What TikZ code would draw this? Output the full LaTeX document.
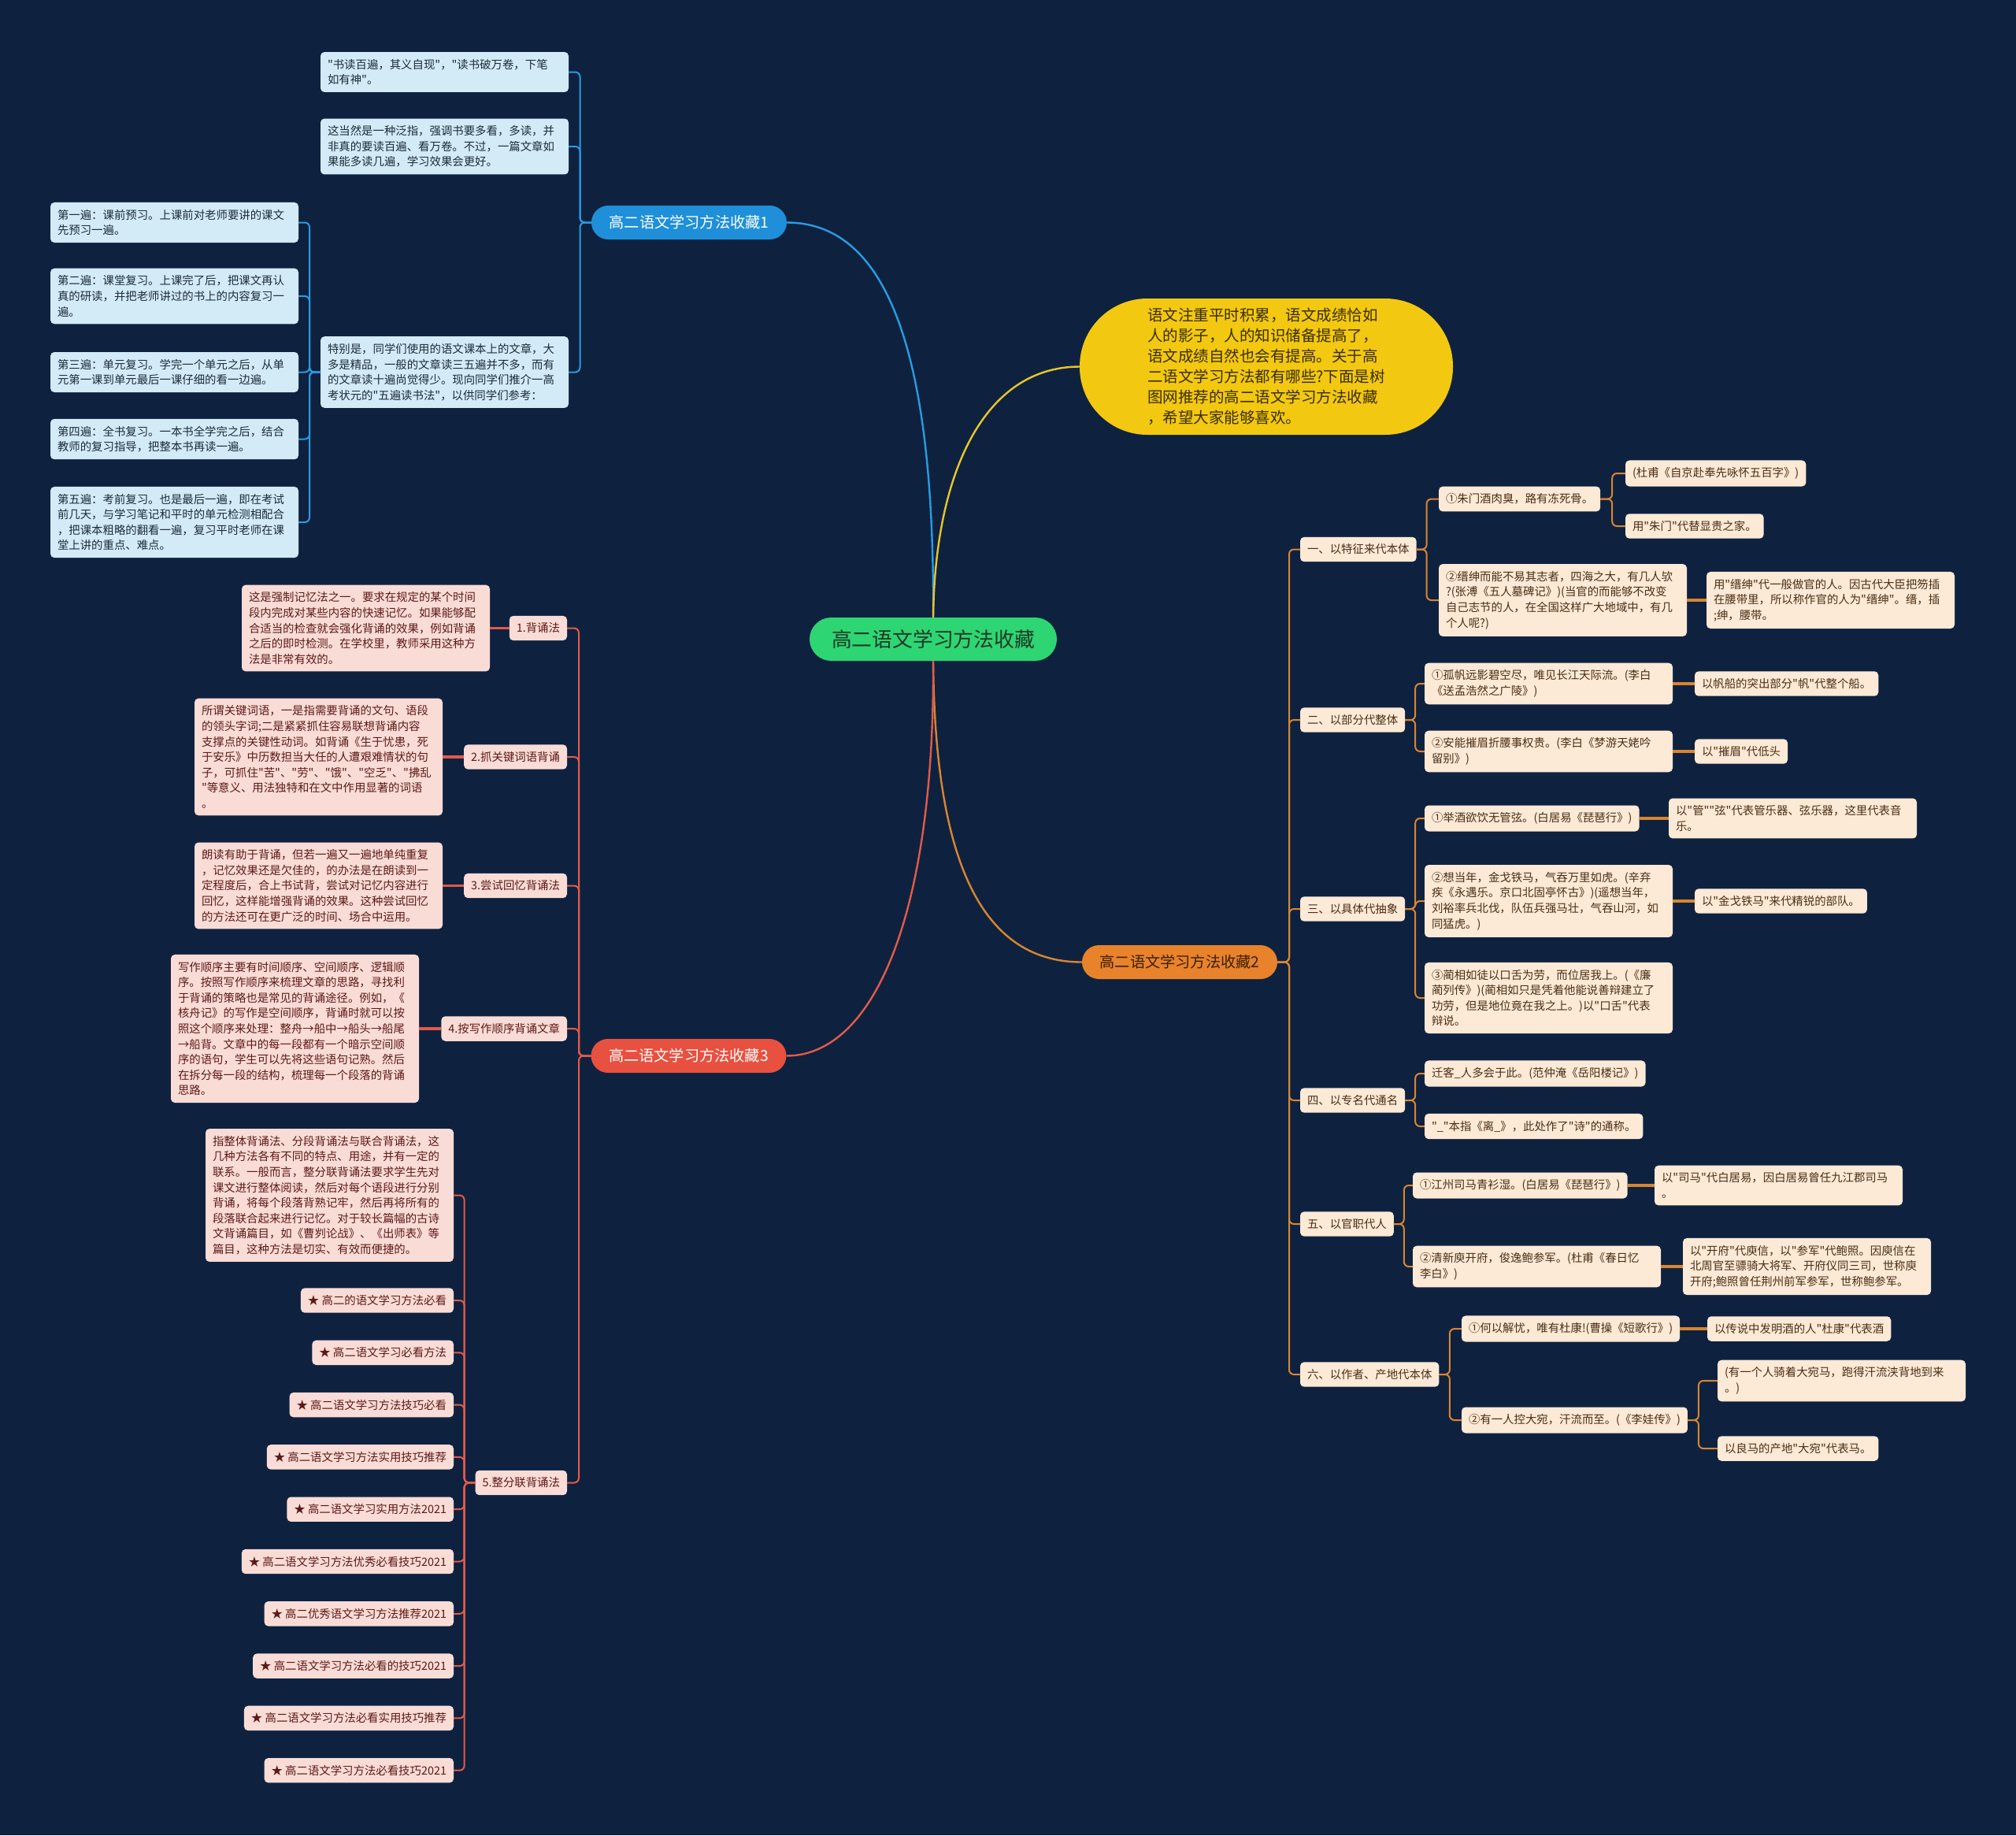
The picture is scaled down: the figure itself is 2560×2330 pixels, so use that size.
\documentclass[tikz,border=0pt]{standalone}
\usepackage{fontspec}
\setmainfont{Noto Sans CJK SC}[Ligatures=TeXOff]
\definecolor{bg}{HTML}{0E2240}
\definecolor{cgreen}{HTML}{2ED573}
\definecolor{ctext}{HTML}{1B3A24}
\definecolor{yel}{HTML}{F2C811}
\definecolor{yeltext}{HTML}{3A2E05}
\definecolor{yline}{HTML}{E8C52A}
\definecolor{bblue}{HTML}{1E8FD8}
\definecolor{bcol}{HTML}{2A9BE0}
\definecolor{lblue}{HTML}{D3EBF7}
\definecolor{bltext}{HTML}{1C2B3A}
\definecolor{oorange}{HTML}{E8822B}
\definecolor{otextb}{HTML}{3A1E05}
\definecolor{ocol}{HTML}{D98530}
\definecolor{lpeach}{HTML}{FCE9D6}
\definecolor{otext}{HTML}{4A2E14}
\definecolor{rred}{HTML}{E8503F}
\definecolor{rcol}{HTML}{E35A48}
\definecolor{lpink}{HTML}{FADCD7}
\definecolor{rtext}{HTML}{5C1A16}
\begin{document}
\begin{tikzpicture}[x=0.5pt,y=-0.5pt,
  every node/.style={inner sep=0pt, outer sep=0pt},
  leaf/.style={rounded corners=2.5pt, inner xsep=4.5pt, inner ysep=4.5pt, align=left, font=\fontsize{7.2}{9.8}\selectfont},
  wide/.style={text width=148.5pt},
  bleaf/.style={leaf, fill=lblue, text=bltext},
  rleaf/.style={leaf, fill=lpink, text=rtext},
  oleaf/.style={leaf, fill=lpeach, text=otext},
  branch/.style={rounded corners=10.75pt, minimum width=124pt, minimum height=21.5pt, font=\fontsize{9.6}{11}\selectfont},
  bl/.style={draw=bcol, line width=1pt, rounded corners=3pt},
  rl/.style={draw=rcol, line width=1pt, rounded corners=3pt},
  ol/.style={draw=ocol, line width=1pt, rounded corners=3pt},
  straight/.style={line width=1.6pt},
  maincurve/.style={line width=1.2pt}
]
\fill[bg] (0,0) rectangle (2560,2330);
\useasboundingbox (0,0) rectangle (2560,2330);

% centre and main branches
\node[fill=cgreen, text=ctext, rounded corners=13.75pt, minimum width=157pt, minimum height=27.5pt, font=\fontsize{12.9}{14}\selectfont] (center) at (1185,811.5) {高二语文学习方法收藏};
\node[fill=yel, text=yeltext, rounded corners=43pt, minimum width=237pt, minimum height=86.5pt, align=left, font=\fontsize{9.75}{13}\selectfont] (intro) at (1608,465.5) {语文注重平时积累，语文成绩恰如\\人的影子，人的知识储备提高了，\\语文成绩自然也会有提高。关于高\\二语文学习方法都有哪些?下面是树\\图网推荐的高二语文学习方法收藏\\，希望大家能够喜欢。};
\node[branch, fill=bblue, text=white] (b) at (875,282.5) {高二语文学习方法收藏1};
\node[branch, fill=oorange, text=otextb] (o) at (1498,1221.5) {高二语文学习方法收藏2};
\node[branch, fill=rred, text=white] (r) at (874.5,1340.5) {高二语文学习方法收藏3};

\draw[maincurve, draw=bcol] (center.north) .. controls (1187,430) and (1120,282.5) .. (b.east);
\draw[maincurve, draw=yline] (center.north) .. controls (1187,600) and (1250,465.5) .. (intro.west);
\draw[maincurve, draw=ocol] (center.south) .. controls (1187,1080) and (1240,1221.5) .. (o.west);
\draw[maincurve, draw=rcol] (center.south) .. controls (1187,1160) and (1110,1340.5) .. (r.east);

% blue subtree
\node[bleaf, wide, anchor=east] (b1) at (722,91.5) {"书读百遍，其义自现"，"读书破万卷，下笔\\如有神"。};
\node[bleaf, wide, anchor=east] (b2) at (722,186) {这当然是一种泛指，强调书要多看，多读，并\\非真的要读百遍、看万卷。不过，一篇文章如\\果能多读几遍，学习效果会更好。};
\node[bleaf, wide, anchor=east] (b3) at (722,472.5) {特别是，同学们使用的语文课本上的文章，大\\多是精品，一般的文章读三五遍并不多，而有\\的文章读十遍尚觉得少。现向同学们推介一高\\考状元的"五遍读书法"，以供同学们参考：};
\node[bleaf, wide, anchor=east] (p1) at (379,282.5) {第一遍：课前预习。上课前对老师要讲的课文\\先预习一遍。};
\node[bleaf, wide, anchor=east] (p2) at (379,376) {第二遍：课堂复习。上课完了后，把课文再认\\真的研读，并把老师讲过的书上的内容复习一\\遍。};
\node[bleaf, wide, anchor=east] (p3) at (379,472.5) {第三遍：单元复习。学完一个单元之后，从单\\元第一课到单元最后一课仔细的看一边遍。};
\node[bleaf, wide, anchor=east] (p4) at (379,557.5) {第四遍：全书复习。一本书全学完之后，结合\\教师的复习指导，把整本书再读一遍。};
\node[bleaf, wide, anchor=east] (p5) at (379,663) {第五遍：考前复习。也是最后一遍，即在考试\\前几天，与学习笔记和平时的单元检测相配合\\，把课本粗略的翻看一遍，复习平时老师在课\\堂上讲的重点、难点。};
\foreach \n in {b1,b2,b3} \draw[bl] (b.west) -- ++(-14.5,0) |- (\n.east);
\foreach \n in {p1,p2,p3,p4,p5} \draw[bl] (b3.west) -- ++(-14,0) |- (\n.east);

% red subtree
\node[rleaf, anchor=east] (r1) at (720,797.5) {1.背诵法};
\node[rleaf, anchor=east] (r2) at (720,961) {2.抓关键词语背诵};
\node[rleaf, anchor=east] (r3) at (720,1124.5) {3.尝试回忆背诵法};
\node[rleaf, anchor=east] (r4) at (720,1306) {4.按写作顺序背诵文章};
\node[rleaf, anchor=east] (r5) at (720,1882.5) {5.整分联背诵法};
\foreach \n in {r1,r2,r3,r4,r5} \draw[rl] (r.west) -- ++(-15.5,0) |- (\n.east);

\node[rleaf, wide, anchor=east] (r1d) at (622,797.5) {这是强制记忆法之一。要求在规定的某个时间\\段内完成对某些内容的快速记忆。如果能够配\\合适当的检查就会强化背诵的效果，例如背诵\\之后的即时检测。在学校里，教师采用这种方\\法是非常有效的。};
\node[rleaf, wide, anchor=east] (r2d) at (562,961) {所谓关键词语，一是指需要背诵的文句、语段\\的领头字词;二是紧紧抓住容易联想背诵内容\\支撑点的关键性动词。如背诵《生于忧患，死\\于安乐》中历数担当大任的人遭艰难情状的句\\子，可抓住"苦"、"劳"、"饿"、"空乏"、"拂乱\\"等意义、用法独特和在文中作用显著的词语\\。};
\node[rleaf, wide, anchor=east] (r3d) at (562,1124.5) {朗读有助于背诵，但若一遍又一遍地单纯重复\\，记忆效果还是欠佳的，的办法是在朗读到一\\定程度后，合上书试背，尝试对记忆内容进行\\回忆，这样能增强背诵的效果。这种尝试回忆\\的方法还可在更广泛的时间、场合中运用。};
\node[rleaf, wide, anchor=east] (r4d) at (532,1306) {写作顺序主要有时间顺序、空间顺序、逻辑顺\\序。按照写作顺序来梳理文章的思路，寻找利\\于背诵的策略也是常见的背诵途径。例如，《\\核舟记》的写作是空间顺序，背诵时就可以按\\照这个顺序来处理：整舟→船中→船头→船尾\\→船背。文章中的每一段都有一个暗示空间顺\\序的语句，学生可以先将这些语句记熟。然后\\在拆分每一段的结构，梳理每一个段落的背诵\\思路。};
\foreach \n in {1,2,3,4} \draw[draw=rcol, straight] (r\n.west) -- (r\n d.east);

\node[rleaf, wide, anchor=east] (r5d) at (576,1517.5) {指整体背诵法、分段背诵法与联合背诵法，这\\几种方法各有不同的特点、用途，并有一定的\\联系。一般而言，整分联背诵法要求学生先对\\课文进行整体阅读，然后对每个语段进行分别\\背诵，将每个段落背熟记牢，然后再将所有的\\段落联合起来进行记忆。对于较长篇幅的古诗\\文背诵篇目，如《曹刿论战》、《出师表》等\\篇目，这种方法是切实、有效而便捷的。};
\node[rleaf, anchor=east] (s1) at (576,1651) {★ 高二的语文学习方法必看};
\node[rleaf, anchor=east] (s2) at (576,1717.3) {★ 高二语文学习必看方法};
\node[rleaf, anchor=east] (s3) at (576,1783.6) {★ 高二语文学习方法技巧必看};
\node[rleaf, anchor=east] (s4) at (576,1849.9) {★ 高二语文学习方法实用技巧推荐};
\node[rleaf, anchor=east] (s5) at (576,1916.2) {★ 高二语文学习实用方法2021};
\node[rleaf, anchor=east] (s6) at (576,1982.5) {★ 高二语文学习方法优秀必看技巧2021};
\node[rleaf, anchor=east] (s7) at (576,2048.8) {★ 高二优秀语文学习方法推荐2021};
\node[rleaf, anchor=east] (s8) at (576,2115.1) {★ 高二语文学习方法必看的技巧2021};
\node[rleaf, anchor=east] (s9) at (576,2181.4) {★ 高二语文学习方法必看实用技巧推荐};
\node[rleaf, anchor=east] (s10) at (576,2247.7) {★ 高二语文学习方法必看技巧2021};
\foreach \n in {r5d,s1,s2,s3,s4,s5,s6,s7,s8,s9,s10} \draw[rl] (r5.west) -- ++(-14,0) |- (\n.east);

% orange subtree
\node[oleaf, anchor=west] (o1) at (1651,697.5) {一、以特征来代本体};
\node[oleaf, anchor=west] (o2) at (1651,914) {二、以部分代整体};
\node[oleaf, anchor=west] (o3) at (1651,1154) {三、以具体代抽象};
\node[oleaf, anchor=west] (o4) at (1651,1397) {四、以专名代通名};
\node[oleaf, anchor=west] (o5) at (1651,1554) {五、以官职代人};
\node[oleaf, anchor=west] (o6) at (1651,1745) {六、以作者、产地代本体};
\foreach \n in {o1,o2,o3,o4,o5,o6} \draw[ol] (o.east) -- ++(15,0) |- (\n.west);

\node[oleaf, anchor=west] (o1a) at (1827,633.5) {①朱门酒肉臭，路有冻死骨。};
\node[oleaf, wide, anchor=west] (o1b) at (1827,762) {②缙绅而能不易其志者，四海之大，有几人欤\\?(张溥《五人墓碑记》)(当官的而能够不改变\\自己志节的人，在全国这样广大地域中，有几\\个人呢?)};
\node[oleaf, anchor=west] (o1a1) at (2064,601) {(杜甫《自京赴奉先咏怀五百字》)};
\node[oleaf, anchor=west] (o1a2) at (2064,668) {用"朱门"代替显贵之家。};
\node[oleaf, wide, anchor=west] (o1b1) at (2167,762) {用"缙绅"代一般做官的人。因古代大臣把笏插\\在腰带里，所以称作官的人为"缙绅"。缙，插\\;绅，腰带。};
\foreach \n in {o1a,o1b} \draw[ol] (o1.east) -- ++(13,0) |- (\n.west);
\foreach \n in {o1a1,o1a2} \draw[ol] (o1a.east) -- ++(15,0) |- (\n.west);
\draw[draw=ocol, straight] (o1b.east) -- (o1b1.west);

\node[oleaf, wide, anchor=west] (o2a) at (1809,868) {①孤帆远影碧空尽，唯见长江天际流。(李白\\《送孟浩然之广陵》)};
\node[oleaf, wide, anchor=west] (o2b) at (1809,954) {②安能摧眉折腰事权贵。(李白《梦游天姥吟\\留别》)};
\node[oleaf, anchor=west] (o2a1) at (2152,868) {以帆船的突出部分"帆"代整个船。};
\node[oleaf, anchor=west] (o2b1) at (2152,954) {以"摧眉"代低头};
\foreach \n in {o2a,o2b} \draw[ol] (o2.east) -- ++(13,0) |- (\n.west);
\draw[draw=ocol, straight] (o2a.east) -- (o2a1.west);
\draw[draw=ocol, straight] (o2b.east) -- (o2b1.west);

\node[oleaf, anchor=west] (o3a) at (1809,1039) {①举酒欲饮无管弦。(白居易《琵琶行》)};
\node[oleaf, wide, anchor=west] (o3b) at (1809,1144) {②想当年，金戈铁马，气吞万里如虎。(辛弃\\疾《永遇乐。京口北固亭怀古》)(遥想当年，\\刘裕率兵北伐，队伍兵强马壮，气吞山河，如\\同猛虎。)};
\node[oleaf, wide, anchor=west] (o3c) at (1809,1267) {③蔺相如徒以口舌为劳，而位居我上。(《廉\\蔺列传》)(蔺相如只是凭着他能说善辩建立了\\功劳，但是地位竟在我之上。)以"口舌"代表\\辩说。};
\node[oleaf, wide, anchor=west] (o3a1) at (2119,1039) {以"管""弦"代表管乐器、弦乐器，这里代表音\\乐。};
\node[oleaf, anchor=west] (o3b1) at (2152,1144) {以"金戈铁马"来代精锐的部队。};
\foreach \n in {o3a,o3b,o3c} \draw[ol] (o3.east) -- ++(13,0) |- (\n.west);
\draw[draw=ocol, straight] (o3a.east) -- (o3a1.west);
\draw[draw=ocol, straight] (o3b.east) -- (o3b1.west);

\node[oleaf, anchor=west] (o4a) at (1809,1363) {迁客\_人多会于此。(范仲淹《岳阳楼记》)};
\node[oleaf, anchor=west] (o4b) at (1809,1430) {"\_"本指《离\_》，此处作了"诗"的通称。};
\foreach \n in {o4a,o4b} \draw[ol] (o4.east) -- ++(13,0) |- (\n.west);

\node[oleaf, anchor=west] (o5a) at (1794,1505) {①江州司马青衫湿。(白居易《琵琶行》)};
\node[oleaf, wide, anchor=west] (o5b) at (1794,1608) {②清新庾开府，俊逸鲍参军。(杜甫《春日忆\\李白》)};
\node[oleaf, wide, anchor=west] (o5a1) at (2101,1505) {以"司马"代白居易，因白居易曾任九江郡司马\\。};
\node[oleaf, wide, anchor=west] (o5b1) at (2137,1608) {以"开府"代庾信，以"参军"代鲍照。因庾信在\\北周官至骠骑大将军、开府仪同三司，世称庾\\开府;鲍照曾任荆州前军参军，世称鲍参军。};
\foreach \n in {o5a,o5b} \draw[ol] (o5.east) -- ++(13,0) |- (\n.west);
\draw[draw=ocol, straight] (o5a.east) -- (o5a1.west);
\draw[draw=ocol, straight] (o5b.east) -- (o5b1.west);

\node[oleaf, anchor=west] (o6a) at (1856,1687) {①何以解忧，唯有杜康!(曹操《短歌行》)};
\node[oleaf, anchor=west] (o6b) at (1856,1803) {②有一人控大宛，汗流而至。(《李娃传》)};
\node[oleaf, anchor=west] (o6a1) at (2168,1687) {以传说中发明酒的人"杜康"代表酒};
\node[oleaf, wide, anchor=west] (o6b1) at (2181,1753) {(有一个人骑着大宛马，跑得汗流浃背地到来\\。)};
\node[oleaf, anchor=west] (o6b2) at (2181,1839) {以良马的产地"大宛"代表马。};
\foreach \n in {o6a,o6b} \draw[ol] (o6.east) -- ++(13.5,0) |- (\n.west);
\draw[draw=ocol, straight] (o6a.east) -- (o6a1.west);
\foreach \n in {o6b1,o6b2} \draw[ol] (o6b.east) -- ++(14,0) |- (\n.west);
\end{tikzpicture}
\end{document}
